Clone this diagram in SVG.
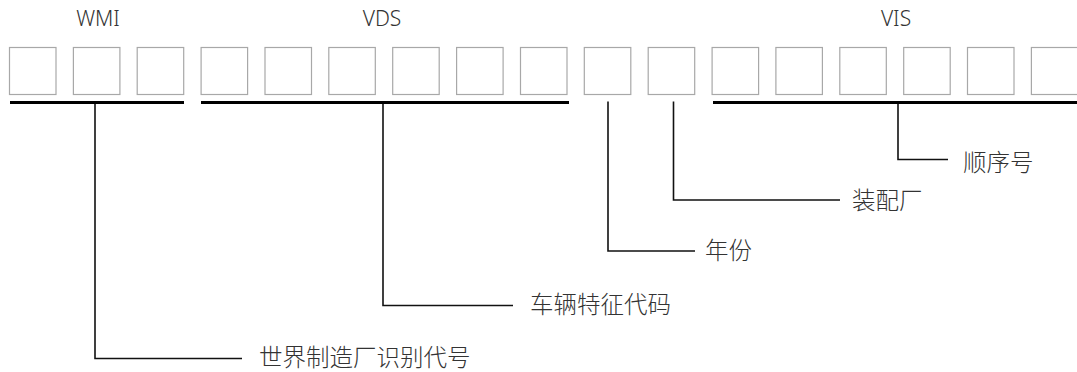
<svg xmlns="http://www.w3.org/2000/svg" width="1077" height="372" viewBox="0 0 1077 372">
<style>
.box{fill:#fff;stroke:#a8a8a8;stroke-width:1.2}
.ul{stroke:#000;stroke-width:3;fill:none}
.conn{stroke:#111;stroke-width:1.6;fill:none}
.hdr{font-family:"Noto Sans","Liberation Sans",sans-serif;font-size:21px;font-weight:300;fill:#333;text-anchor:middle}
.lbl{font-family:"Noto Sans CJK SC","Noto Sans",sans-serif;font-size:23.5px;font-weight:300;fill:#333}
</style>
<rect width="1077" height="372" fill="#fff"/>
<g id="boxes">
<rect class="box" x="9.5" y="47.5" width="46.5" height="47"/>
<rect class="box" x="73.4" y="47.5" width="46.5" height="47"/>
<rect class="box" x="137.2" y="47.5" width="46.5" height="47"/>
<rect class="box" x="201.1" y="47.5" width="46.5" height="47"/>
<rect class="box" x="265" y="47.5" width="46.5" height="47"/>
<rect class="box" x="328.8" y="47.5" width="46.5" height="47"/>
<rect class="box" x="392.7" y="47.5" width="46.5" height="47"/>
<rect class="box" x="456.6" y="47.5" width="46.5" height="47"/>
<rect class="box" x="520.5" y="47.5" width="46.5" height="47"/>
<rect class="box" x="584.3" y="47.5" width="46.5" height="47"/>
<rect class="box" x="648.2" y="47.5" width="46.5" height="47"/>
<rect class="box" x="712.1" y="47.5" width="46.5" height="47"/>
<rect class="box" x="775.9" y="47.5" width="46.5" height="47"/>
<rect class="box" x="839.8" y="47.5" width="46.5" height="47"/>
<rect class="box" x="903.7" y="47.5" width="46.5" height="47"/>
<rect class="box" x="967.5" y="47.5" width="46.5" height="47"/>
<rect class="box" x="1031.4" y="47.5" width="46.5" height="47"/>
</g>
<g id="headers">
<text class="hdr" x="98" y="26">WMI</text>
<text class="hdr" x="382" y="26">VDS</text>
<text class="hdr" x="896" y="26">VIS</text>
</g>
<g id="underlines">
<line class="ul" x1="10" y1="102.5" x2="184" y2="102.5"/>
<line class="ul" x1="201" y1="102.5" x2="569" y2="102.5"/>
<line class="ul" x1="713" y1="102.5" x2="1077" y2="102.5"/>
</g>
<g id="connectors">
<polyline class="conn" points="95,104 95,358.5 242,358.5"/>
<polyline class="conn" points="383,104 383,305.5 513,305.5"/>
<polyline class="conn" points="608,101.5 608,251 695,251"/>
<polyline class="conn" points="673.5,101.5 673.5,200 840,200"/>
<polyline class="conn" points="898,104 898,159.5 948,159.5"/>
</g>
<g id="labels">
<text class="lbl" x="259" y="366">世界制造厂识别代号</text>
<text class="lbl" x="530" y="313">车辆特征代码</text>
<text class="lbl" x="705" y="259">年份</text>
<text class="lbl" x="852" y="208.5">装配厂</text>
<text class="lbl" x="963" y="171">顺序号</text>
</g>
</svg>
